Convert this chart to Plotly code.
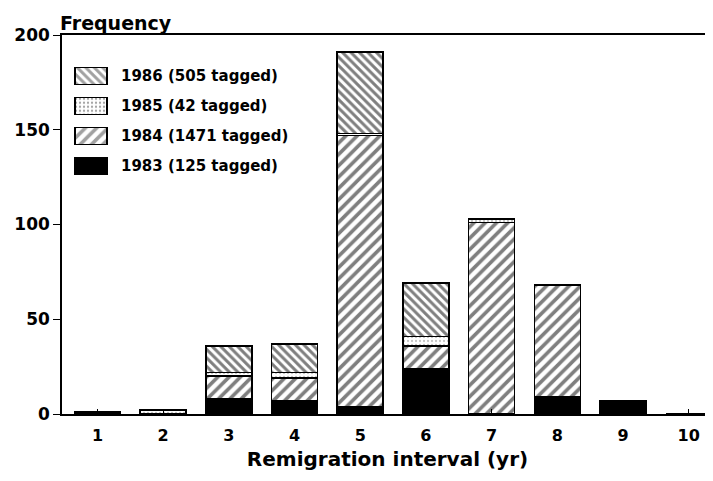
import plotly.graph_objects as go

intervals = [1, 2, 3, 4, 5, 6, 7, 8, 9, 10]
tick_labels = ["1", "2", "3", "4", "5", "6", "7", "8", "9", "10"]
y1983 = [1, 0, 8, 7, 4, 24, 0, 9, 7, 0]
y1984 = [0, 0, 12, 12, 143, 12, 101, 59, 0, 0]
y1985 = [0, 2, 2, 3, 1, 5, 2, 0, 0, 0]
y1986 = [0, 0, 14, 15, 43, 28, 0, 0, 0, 0]
series_names = ["1983 (125 tagged)", "1984 (1471 tagged)", "1985 (42 tagged)", "1986 (505 tagged)"]
y_ticks = [0, 50, 100, 150, 200]

FONT = "DejaVu Sans, Liberation Sans, Arial, sans-serif"

# style per series (1983, 1984, 1985, 1986)
fill_colors = ["black", "white", "white", "white"]
pat_shapes = ["", "/", ".", "\\"]
pat_sizes = [6, 8, 4, 6]
pat_solid = [0.3, 0.45, 0.25, 0.5]
pat_fg = ["black", "black", "#888888", "black"]

fig = go.Figure()
for i, (name, vals) in enumerate(zip(series_names, [y1983, y1984, y1985, y1986])):
    fig.add_trace(go.Bar(
        x=intervals, y=vals, name=name, width=0.7, showlegend=False,
        marker=dict(color=fill_colors[i],
                    pattern=dict(shape=pat_shapes[i], size=pat_sizes[i], solidity=pat_solid[i],
                                 fgcolor=pat_fg[i], bgcolor="white"),
                    line=dict(color="black", width=1.6)),
    ))

# custom legend (larger swatches) drawn on an auxiliary axis pair
leg_rows = [0.5, 1.5, 2.5, 3.5]  # 1983 at bottom ... 1986 at top
fig.add_trace(go.Bar(
    orientation="h", y=leg_rows, x=[32] * 4, base=[13] * 4, width=0.56,
    xaxis="x2", yaxis="y2", showlegend=False, hoverinfo="skip",
    marker=dict(color=fill_colors,
                pattern=dict(shape=pat_shapes, size=pat_sizes, solidity=pat_solid,
                             fgcolor=pat_fg, bgcolor="white"),
                line=dict(color="black", width=1.2)),
))

annotations = [dict(
    text="Frequency", xref="paper", yref="paper", x=-0.004, y=1.0,
    xanchor="left", yanchor="bottom", yshift=0, borderpad=0, showarrow=False,
    font=dict(family=FONT, size=19, weight="bold"),
)]
for name, r in zip(series_names, leg_rows):
    annotations.append(dict(
        text=name, xref="x2", yref="y2", x=57, y=r, xanchor="left", yanchor="middle",
        showarrow=False, font=dict(family=FONT, size=15, weight="bold"),
    ))

fig.update_layout(
    barmode="stack",
    width=705, height=473,
    margin=dict(l=54, r=0, t=27, b=67),
    plot_bgcolor="rgba(0,0,0,0)", paper_bgcolor="white",
    font=dict(family=FONT, color="black", size=15, weight="bold"),
    showlegend=False,
    xaxis=dict(
        range=[0.46, 10.37], tickmode="array", tickvals=intervals, ticktext=tick_labels,
        ticks="inside", ticklen=5, tickcolor="black", tickwidth=1,
        showline=True, linecolor="black", linewidth=1.5, mirror=True,
        showgrid=False, zeroline=False, automargin=False, ticklabelstandoff=6,
        tickfont=dict(size=16, weight="bold"),
        title=dict(text="Remigration interval (yr)", font=dict(size=20, weight="bold"), standoff=8),
    ),
    yaxis=dict(
        range=[0, 200], tickvals=y_ticks,
        ticks="outside", ticklen=7, tickcolor="black", tickwidth=1,
        showline=True, linecolor="black", linewidth=1.5,
        showgrid=False, zeroline=False, automargin=False, ticklabelstandoff=0,
        tickfont=dict(size=17, weight="bold"),
    ),
    xaxis2=dict(domain=[0, 0.4], range=[0, 260.4], anchor="y2", visible=False, fixedrange=True),
    yaxis2=dict(domain=[0.615, 0.932], range=[0, 4], anchor="x2", visible=False, fixedrange=True),
    annotations=annotations,
)

fig.write_html("out.html")
